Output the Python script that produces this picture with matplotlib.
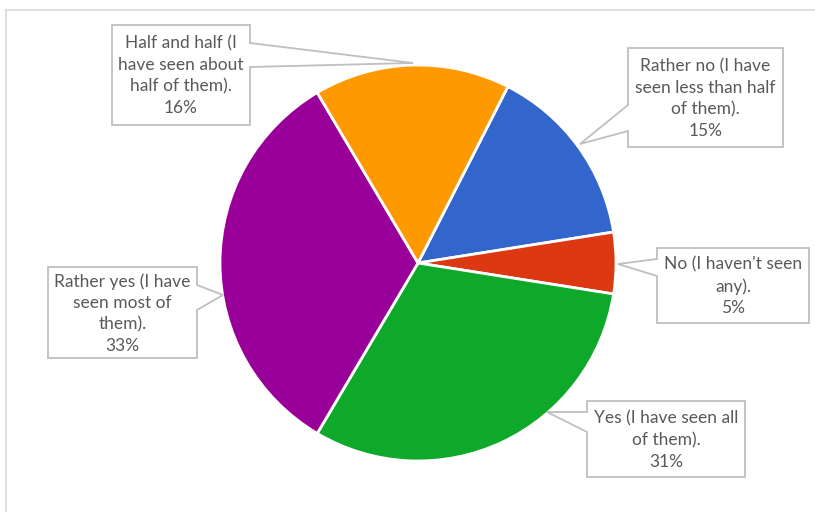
import matplotlib
matplotlib.use("Agg")
import matplotlib.pyplot as plt
from matplotlib.patches import Polygon

# slice order, clockwise from the first slice
categories = [
    "Rather no (I have\nseen less than half\nof them).",
    "No (I haven't seen\nany).",
    "Yes (I have seen all\nof them).",
    "Rather yes (I have\nseen most of\nthem).",
    "Half and half (I\nhave seen about\nhalf of them).",
]
shares = [15, 5, 31, 33, 16]
colors = ["#3366CC", "#DC3912", "#0EA82B", "#990099", "#FF9900"]

W, H = 815, 512

# callout boxes in pixel coords: (left, top, right, bottom), wedge side,
# wedge start/end (y on box edge), tip (x, y)
CALLOUTS = [
    ((628, 48, 783, 147), "left", (105, 131), (580, 144)),
    ((657, 248, 809, 323), "left", (259, 276), (618, 264)),
    ((587, 401, 745, 477), "left", (412, 432), (547, 412)),
    ((48, 267, 197, 358), "right", (285, 310), (223, 295)),
    ((112, 25, 250, 125), "right", (43, 67), (413, 63)),
]

TEXT_COLOR = "#595959"
EDGE_COLOR = "#BFBFBF"


def fy(y):
    return H - y


fig = plt.figure(figsize=(W / 100, H / 100), dpi=100)
ax = fig.add_axes([0, 0, 1, 1])

# chart area border (only top and left visible in the crop)
ax.plot([5.5, W], [fy(9.5), fy(9.5)], color="#D9D9D9", lw=1.2, zorder=0)
ax.plot([5.5, 5.5], [fy(9.5), 0], color="#D9D9D9", lw=1.2, zorder=0)

ax.pie(
    shares,
    colors=colors,
    startangle=63,
    counterclock=False,
    center=(418, fy(263)),
    radius=198,
    wedgeprops={"edgecolor": "white", "linewidth": 2},
    frame=True,
)
ax.set_xlim(0, W)
ax.set_ylim(0, H)
ax.set_aspect("equal")
ax.axis("off")

for (box, side, wedge, tip), name, value in zip(CALLOUTS, categories, shares):
    x0, y0, x1, y1 = box
    w0, w1 = wedge
    if side == "left":
        pts = [(x0, y0), (x1, y0), (x1, y1), (x0, y1), (x0, w1), tip, (x0, w0)]
    else:
        pts = [(x0, y0), (x1, y0), (x1, w0), tip, (x1, w1), (x1, y1), (x0, y1)]
    poly = Polygon([(px, fy(py)) for px, py in pts], closed=True,
                   facecolor="white", edgecolor=EDGE_COLOR, lw=1.3, zorder=5)
    ax.add_patch(poly)
    ax.text((x0 + x1) / 2, fy((y0 + y1) / 2 + 1), f"{name}\n{value}%",
            ha="center", va="center", color=TEXT_COLOR, fontsize=12.5,
            family="Lato", linespacing=1.42, zorder=6)

fig.savefig("out.png", dpi=100)
